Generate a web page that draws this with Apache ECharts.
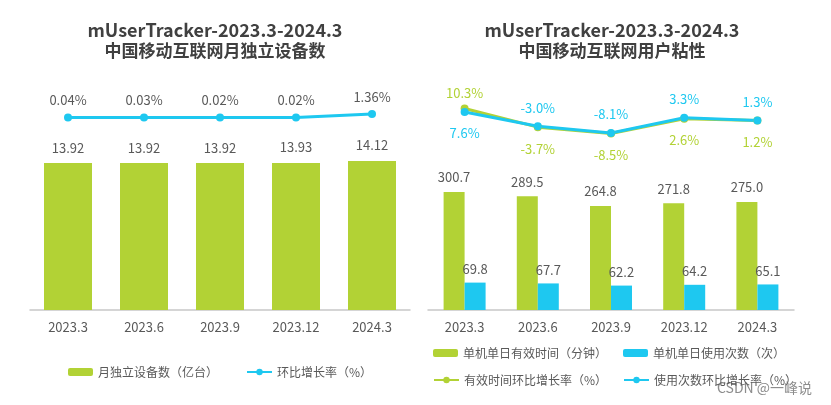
<!DOCTYPE html>
<html><head><meta charset="utf-8">
<script src="https://cdn.jsdelivr.net/npm/echarts@6/dist/echarts.min.js"></script>
<style>html,body{margin:0;padding:0;background:#fff}#c{width:831px;height:405px}</style>
</head><body><div id="c"></div>
<script>
const categories = ['2023.3','2023.6','2023.9','2023.12','2024.3'];
const devices = [13.92, 13.92, 13.92, 13.93, 14.12];
const devicesGrowth = [0.04, 0.03, 0.02, 0.02, 1.36];
const dailyMinutes = [300.7, 289.5, 264.8, 271.8, 275.0];
const dailyTimes = [69.8, 67.7, 62.2, 64.2, 65.1];
const minutesGrowth = [10.3, -3.7, -8.5, 2.6, 1.2];
const timesGrowth = [7.6, -3.0, -8.1, 3.3, 1.3];

const GREEN = '#b2d235', CYAN = '#1ec8f0', TXT = '#595959';
const FONT = '"Noto Sans CJK SC", "Noto Sans", sans-serif';

const chart = echarts.init(document.getElementById('c'));
const xAxisBase = {
  type: 'category', data: categories,
  axisLine: {lineStyle: {color: '#c8c8c8', width: 1.5}},
  axisTick: {show: false},
  axisLabel: {color: TXT, fontSize: 13, margin: 11, fontFamily: FONT}
};
const hiddenY = {type: 'value', show: false, splitLine: {show: false}};
const legendText = {color: TXT, fontSize: 12, fontFamily: FONT};

chart.setOption({
  animation: false,
  textStyle: {fontFamily: FONT},
  graphic: [
    {type:'text', x: 215, y: 30, style:{text:'mUserTracker-2023.3-2024.3', fill:'#404040', font:'bold 18px ' + FONT, textAlign:'center', textVerticalAlign:'middle'}},
    {type:'text', x: 215, y: 51, style:{text:'中国移动互联网月独立设备数', fill:'#404040', font:'bold 17px ' + FONT, textAlign:'center', textVerticalAlign:'middle'}},
    {type:'text', x: 612, y: 30, style:{text:'mUserTracker-2023.3-2024.3', fill:'#404040', font:'bold 18px ' + FONT, textAlign:'center', textVerticalAlign:'middle'}},
    {type:'text', x: 612, y: 51, style:{text:'中国移动互联网用户粘性', fill:'#404040', font:'bold 17px ' + FONT, textAlign:'center', textVerticalAlign:'middle'}},
    {type:'text', x: 717, y: 388, style:{text:'CSDN @一峰说', fill:'#8c8c8c', font:'14px ' + FONT, textAlign:'left', textVerticalAlign:'middle'}}
  ],
  grid: [
    {left: 30, right: 421, top: 100, bottom: 95},
    {left: 428, right: 37, top: 100, bottom: 95}
  ],
  xAxis: [
    Object.assign({gridIndex: 0}, xAxisBase),
    Object.assign({gridIndex: 1}, xAxisBase)
  ],
  yAxis: [
    Object.assign({gridIndex: 0, min: 0, max: 19.9}, hiddenY),
    Object.assign({gridIndex: 0, min: -77, max: 7}, hiddenY),
    Object.assign({gridIndex: 1, min: 0, max: 535}, hiddenY),
    Object.assign({gridIndex: 1, min: -140.4, max: 16.6}, hiddenY)
  ],
  legend: [
    {data: ['月独立设备数（亿台）', '环比增长率（%）'], left: 68, top: 366, itemWidth: 25, itemHeight: 8, itemGap: 28, padding: 0, textStyle: legendText},
    {data: ['单机单日有效时间（分钟）'], left: 433, top: 347, itemWidth: 25, itemHeight: 8, padding: 0, textStyle: legendText},
    {data: ['单机单日使用次数（次）'], left: 623, top: 347, itemWidth: 25, itemHeight: 8, padding: 0, textStyle: legendText},
    {data: ['有效时间环比增长率（%）'], left: 433, top: 374, itemWidth: 25, itemHeight: 8, padding: 0, textStyle: legendText},
    {data: ['使用次数环比增长率（%）'], left: 623, top: 374, itemWidth: 25, itemHeight: 8, padding: 0, textStyle: legendText}
  ],
  series: [
    {name: '月独立设备数（亿台）', type: 'bar', xAxisIndex: 0, yAxisIndex: 0, data: devices, barWidth: 48,
      itemStyle: {color: GREEN},
      label: {show: true, position: 'top', distance: 9, color: TXT, fontSize: 13, formatter: p => p.value.toFixed(2)}},
    {name: '环比增长率（%）', type: 'line', xAxisIndex: 0, yAxisIndex: 1, data: devicesGrowth,
      symbol: 'circle', symbolSize: 8, lineStyle: {color: CYAN, width: 3}, itemStyle: {color: CYAN},
      label: {show: true, position: 'top', distance: 7, color: TXT, fontSize: 13, formatter: p => p.value.toFixed(2) + '%'}},
    {name: '单机单日有效时间（分钟）', type: 'bar', xAxisIndex: 1, yAxisIndex: 2, data: dailyMinutes, barWidth: 21, barGap: '0%',
      itemStyle: {color: GREEN},
      label: {show: true, position: 'top', distance: 8, color: TXT, fontSize: 13, formatter: p => p.value.toFixed(1)}},
    {name: '单机单日使用次数（次）', type: 'bar', xAxisIndex: 1, yAxisIndex: 2, data: dailyTimes, barWidth: 21, barGap: '0%',
      itemStyle: {color: CYAN},
      label: {show: true, position: 'top', distance: 7, color: TXT, fontSize: 13, formatter: p => p.value.toFixed(1)}},
    {name: '有效时间环比增长率（%）', type: 'line', xAxisIndex: 1, yAxisIndex: 3,
      data: minutesGrowth.map((v, i) => ({value: v, label: {position: i === 0 ? 'top' : 'bottom', distance: i === 0 ? 5 : 11}})),
      symbol: 'circle', symbolSize: 8, lineStyle: {color: GREEN, width: 3}, itemStyle: {color: GREEN},
      label: {show: true, color: GREEN, fontSize: 13, formatter: p => p.value.toFixed(1) + '%'}},
    {name: '使用次数环比增长率（%）', type: 'line', xAxisIndex: 1, yAxisIndex: 3,
      data: timesGrowth.map((v, i) => ({value: v, label: {position: i === 0 ? 'bottom' : 'top', distance: i === 0 ? 11 : 8}})),
      symbol: 'circle', symbolSize: 8, lineStyle: {color: CYAN, width: 3}, itemStyle: {color: CYAN},
      label: {show: true, color: CYAN, fontSize: 13, formatter: p => p.value.toFixed(1) + '%'}}
  ]
});
</script></body></html>
